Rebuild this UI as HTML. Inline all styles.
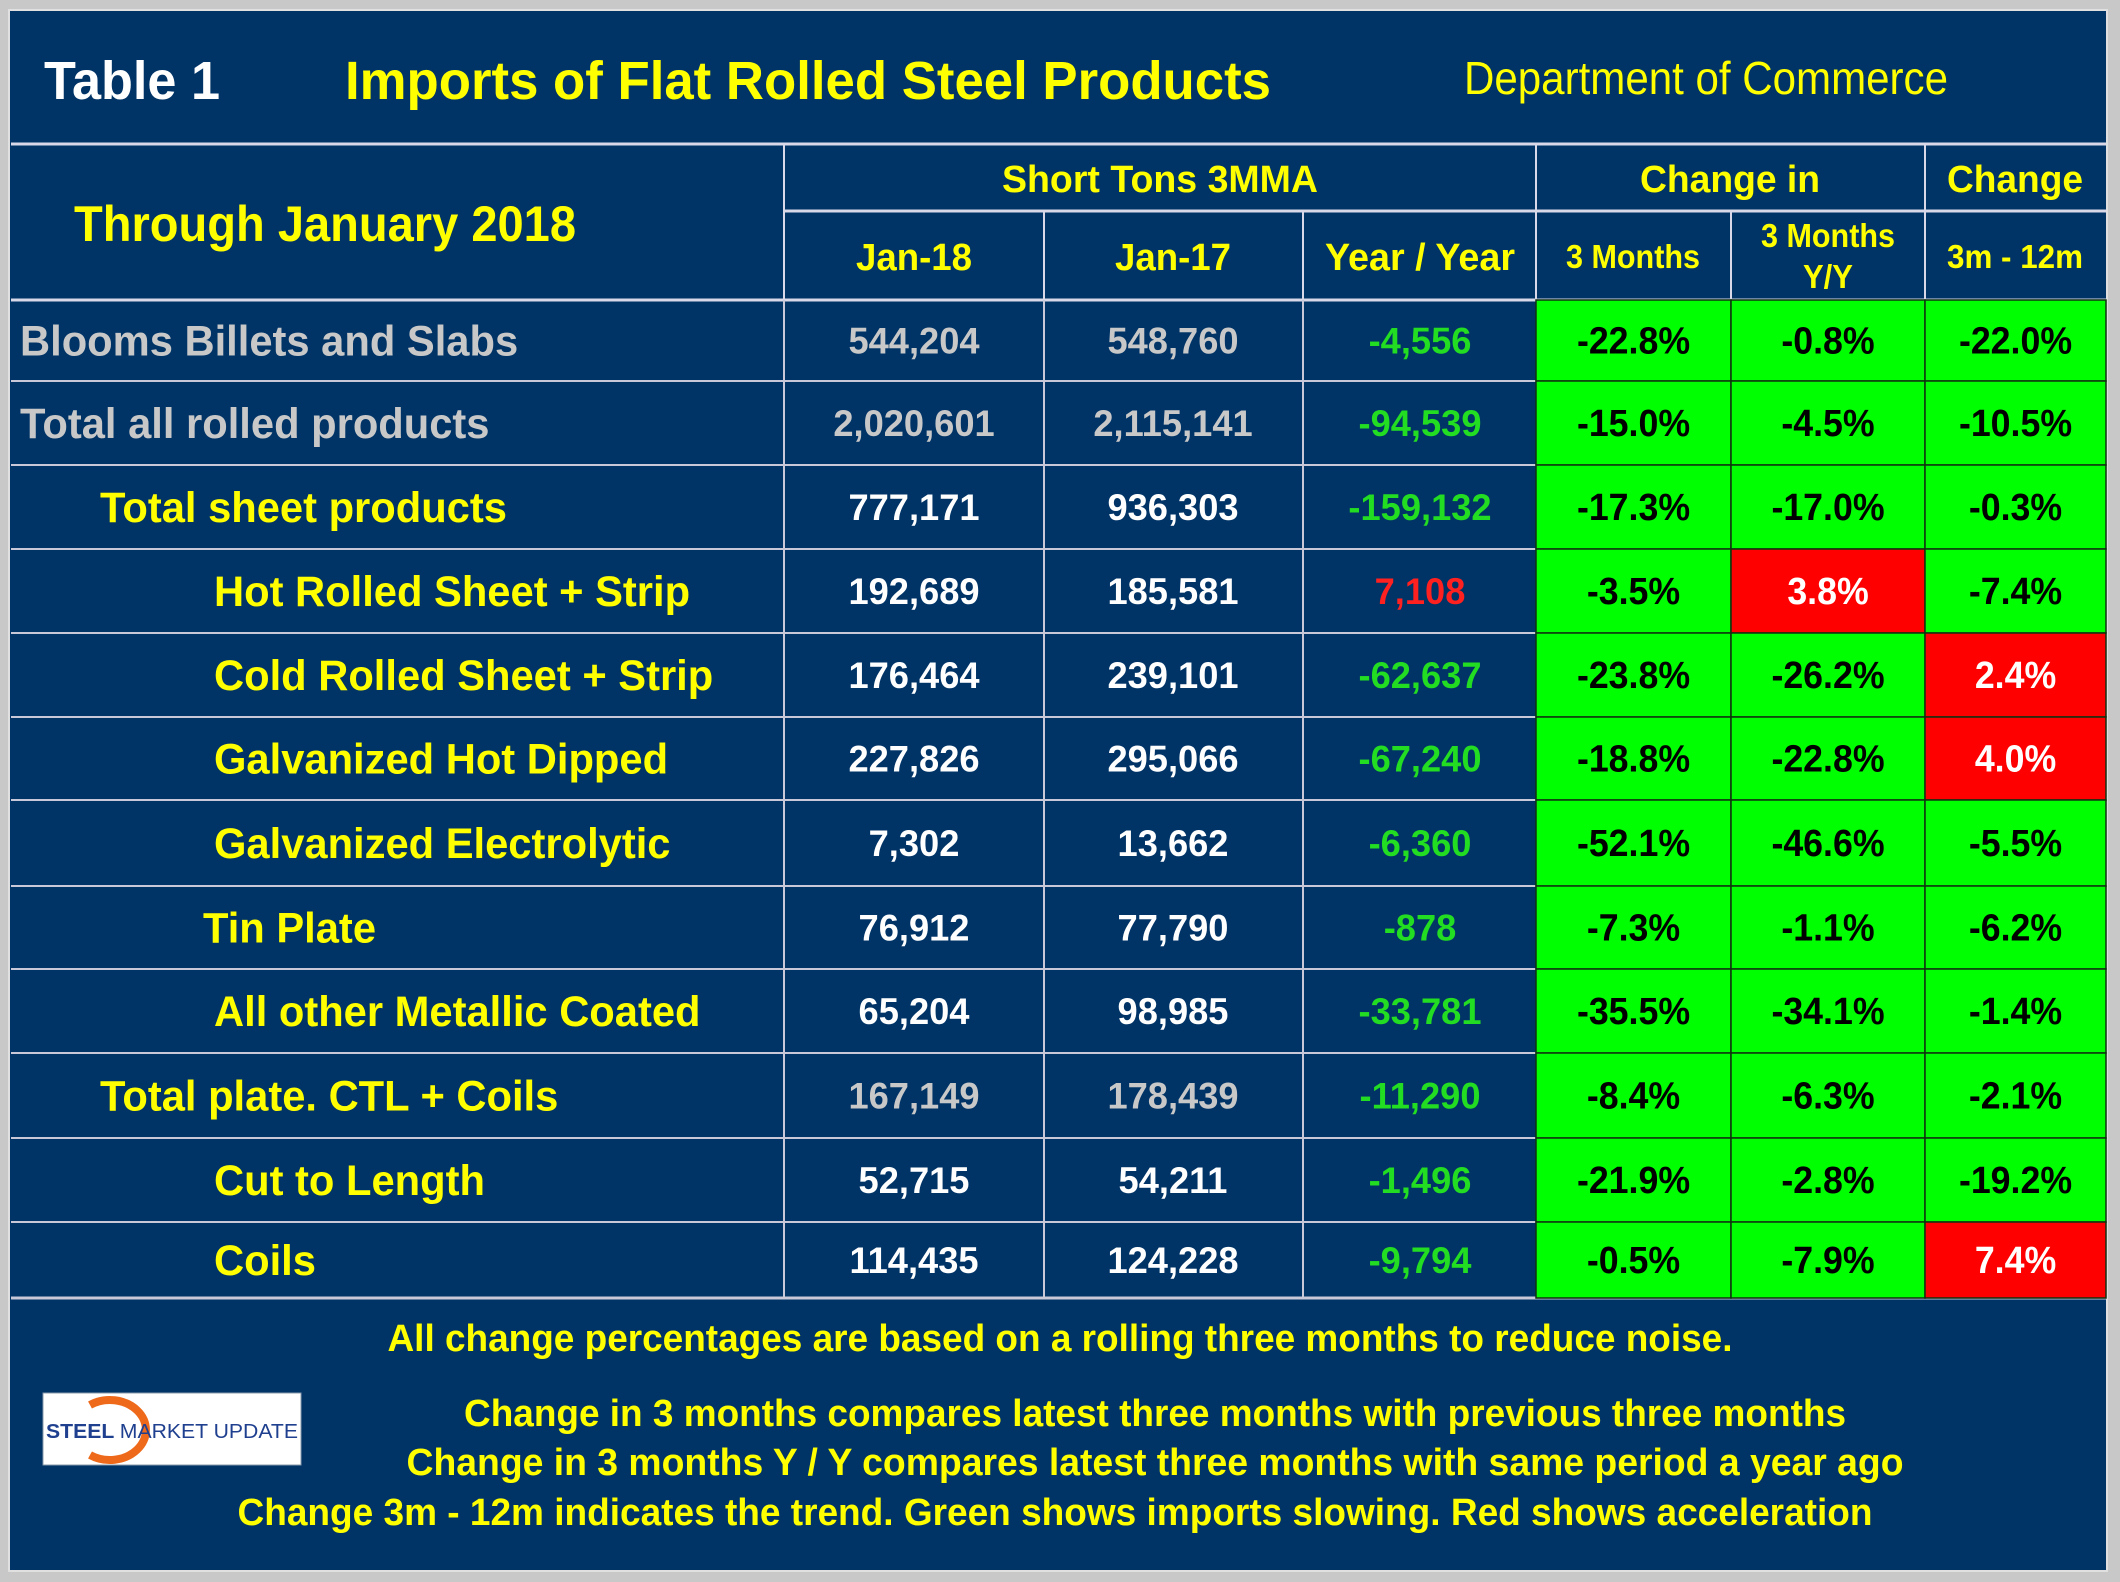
<!DOCTYPE html>
<html><head><meta charset="utf-8"><style>
html,body{margin:0;padding:0;background:#c0c0c0;}
svg{display:block;font-family:"Liberation Sans",Arial,sans-serif;font-weight:bold;}
</style></head><body>
<svg id="s" width="2120" height="1582" viewBox="0 0 2120 1582" xmlns="http://www.w3.org/2000/svg">
<rect x="0" y="0" width="2120" height="1582" fill="#c8c8c8"/>
<rect x="9" y="10" width="2098" height="1561" fill="#003366" stroke="#e0e0e0" stroke-width="2"/>
<text x="44" y="99" font-size="54" fill="#fff" textLength="176" lengthAdjust="spacingAndGlyphs">Table 1</text>
<text x="345" y="99" font-size="54" fill="#ffff00" textLength="926" lengthAdjust="spacingAndGlyphs">Imports of Flat Rolled Steel Products</text>
<text x="1464" y="94" font-size="46" font-weight="normal" fill="#ffff00" textLength="484" lengthAdjust="spacingAndGlyphs">Department of Commerce</text>
<g id="grid"></g>
<g id="cells"></g>
<text x="74" y="241" font-size="50" fill="#ffff00" textLength="502" lengthAdjust="spacingAndGlyphs">Through January 2018</text>
<text x="1160" y="192" font-size="38" fill="#ffff00" text-anchor="middle" textLength="316" lengthAdjust="spacingAndGlyphs">Short Tons 3MMA</text>
<text x="1730" y="192" font-size="38" fill="#ffff00" text-anchor="middle" textLength="180" lengthAdjust="spacingAndGlyphs">Change in</text>
<text x="2015" y="192" font-size="38" fill="#ffff00" text-anchor="middle" textLength="136" lengthAdjust="spacingAndGlyphs">Change</text>
<text x="914" y="270" font-size="38" fill="#ffff00" text-anchor="middle" textLength="116" lengthAdjust="spacingAndGlyphs">Jan-18</text>
<text x="1173" y="270" font-size="38" fill="#ffff00" text-anchor="middle" textLength="116" lengthAdjust="spacingAndGlyphs">Jan-17</text>
<text x="1420" y="270" font-size="38" fill="#ffff00" text-anchor="middle" textLength="190" lengthAdjust="spacingAndGlyphs">Year / Year</text>
<text x="1633" y="268" font-size="33" fill="#ffff00" text-anchor="middle" textLength="134" lengthAdjust="spacingAndGlyphs">3 Months</text>
<text x="1828" y="247" font-size="33" fill="#ffff00" text-anchor="middle" textLength="134" lengthAdjust="spacingAndGlyphs">3 Months</text>
<text x="1828" y="288" font-size="33" fill="#ffff00" text-anchor="middle" textLength="50" lengthAdjust="spacingAndGlyphs">Y/Y</text>
<text x="2015" y="268" font-size="33" fill="#ffff00" text-anchor="middle" textLength="136" lengthAdjust="spacingAndGlyphs">3m - 12m</text>
<text x="1060" y="1351" font-size="38" fill="#ffff00" text-anchor="middle" textLength="1345" lengthAdjust="spacingAndGlyphs">All change percentages are based on a rolling three months to reduce noise.</text>
<text x="1155" y="1426" font-size="38" fill="#ffff00" text-anchor="middle" textLength="1382" lengthAdjust="spacingAndGlyphs">Change in 3 months compares latest three months with previous three months</text>
<text x="1155" y="1475" font-size="38" fill="#ffff00" text-anchor="middle" textLength="1497" lengthAdjust="spacingAndGlyphs">Change in 3 months  Y / Y compares latest three months with same period a year ago</text>
<text x="1055" y="1525" font-size="38" fill="#ffff00" text-anchor="middle" textLength="1635" lengthAdjust="spacingAndGlyphs">Change 3m - 12m indicates the trend. Green shows imports slowing. Red shows acceleration</text>
<g>
<rect x="43" y="1393" width="258" height="72" fill="#fff" stroke="#8899aa" stroke-width="1"/>
<path d="M 100 1405 A 36 30 0 1 1 100 1455" fill="none" stroke="#ee6a1a" stroke-width="8" transform="translate(-10,0)"/>
<text x="46" y="1438" font-size="20" fill="#1f3f8f" textLength="252" lengthAdjust="spacingAndGlyphs">STEEL <tspan font-weight="normal">MARKET UPDATE</tspan></text>
</g>
</svg>
<script>
const labels=["Blooms Billets and Slabs","Total all rolled products","Total sheet products","Hot Rolled Sheet + Strip","Cold Rolled Sheet + Strip","Galvanized Hot Dipped","Galvanized Electrolytic","Tin Plate","All other Metallic Coated","Total plate. CTL + Coils","Cut to Length","Coils"];
const jan18=[544204,2020601,777171,192689,176464,227826,7302,76912,65204,167149,52715,114435];
const jan17=[548760,2115141,936303,185581,239101,295066,13662,77790,98985,178439,54211,124228];
const yoy=[-4556,-94539,-159132,7108,-62637,-67240,-6360,-878,-33781,-11290,-1496,-9794];
const chg3m=[-22.8,-15.0,-17.3,-3.5,-23.8,-18.8,-52.1,-7.3,-35.5,-8.4,-21.9,-0.5];
const chg3mYY=[-0.8,-4.5,-17.0,3.8,-26.2,-22.8,-46.6,-1.1,-34.1,-6.3,-2.8,-7.9];
const chgTrend=[-22.0,-10.5,-0.3,-7.4,2.4,4.0,-5.5,-6.2,-1.4,-2.1,-19.2,7.4];
const indent=[20,20,100,214,214,214,214,203,214,100,214,214];
const NS="http://www.w3.org/2000/svg";
const rowY=[300,381,465,549,633,717,800,886,969,1053,1138,1222,1298];
const colX=[11,784,1044,1303,1536,1731,1925,2106];
const grid=document.getElementById('grid'),cells=document.getElementById('cells');
function mk(tag,attrs,parent){const e=document.createElementNS(NS,tag);for(const k in attrs)e.setAttribute(k,attrs[k]);parent.appendChild(e);return e;}
const fmt=n=>n.toLocaleString('en-US');
const pct=n=>n.toFixed(1)+'%';
function txt(parent,x,y,s,size,fill,anchor,scale,name){
  const g=mk('g',{transform:`translate(${x},${y}) scale(${scale},1)`},parent);
  const t=mk('text',{x:0,y:0,'font-size':size,fill:fill,'text-anchor':anchor},g);
  t.textContent=s;
  
  
  return t;
}
mk('line',{x1:11,y1:144,x2:2106,y2:144,stroke:'#d8d8e8','stroke-width':3},grid);
mk('line',{x1:784,y1:211,x2:2106,y2:211,stroke:'#d8d8e8','stroke-width':3},grid);
mk('line',{x1:11,y1:300,x2:2106,y2:300,stroke:'#d8d8e8','stroke-width':3},grid);
[784,1536,1925].forEach(x=>mk('line',{x1:x,y1:144,x2:x,y2:300,stroke:'#d8d8e8','stroke-width':2},grid));
[1044,1303,1731].forEach(x=>mk('line',{x1:x,y1:211,x2:x,y2:300,stroke:'#d8d8e8','stroke-width':2},grid));
for(let i=0;i<labels.length;i++){
  const y0=rowY[i],y1=rowY[i+1],cy=(y0+y1)/2+13;
  const rg=mk('g',{},cells);
  
  
  const vals=[chg3m[i],chg3mYY[i],chgTrend[i]];
  vals.forEach((v,j)=>{
    const red=v>0;
    const r=mk('rect',{x:colX[4+j],y:y0,width:colX[5+j]-colX[4+j],height:y1-y0,fill:red?'#ff0000':'#00ff00',stroke:'#103010','stroke-width':1.5},rg);
    
    
    txt(rg,(colX[4+j]+colX[5+j])/2,cy,pct(v),38,red?'#ffffff':'#000000','middle',0.94,'change-value');
  });
  mk('line',{x1:11,y1:y1,x2:1536,y2:y1,stroke:'#c8c8d8','stroke-width':2},grid);
  const gray=(i<2||i===9);
  txt(rg,indent[i],cy+2,labels[i],43,(i<2)?'#c8c8c8':'#ffff00','start',0.97,'row-label');
  txt(rg,914,cy,fmt(jan18[i]),37,gray?'#c8c8c8':'#ffffff','middle',0.98,'jan-18-value');
  txt(rg,1173,cy,fmt(jan17[i]),37,gray?'#c8c8c8':'#ffffff','middle',0.98,'jan-17-value');
  txt(rg,1420,cy,fmt(yoy[i]),37,yoy[i]>0?'#ff2020':'#22dd22','middle',0.98,'yoy-value');
}
[784,1044,1303].forEach(x=>mk('line',{x1:x,y1:300,x2:x,y2:1298,stroke:'#c8c8d8','stroke-width':2},grid));
mk('line',{x1:11,y1:1298,x2:2106,y2:1298,stroke:'#c8c8d8','stroke-width':3},grid);
</script>
</body></html>
